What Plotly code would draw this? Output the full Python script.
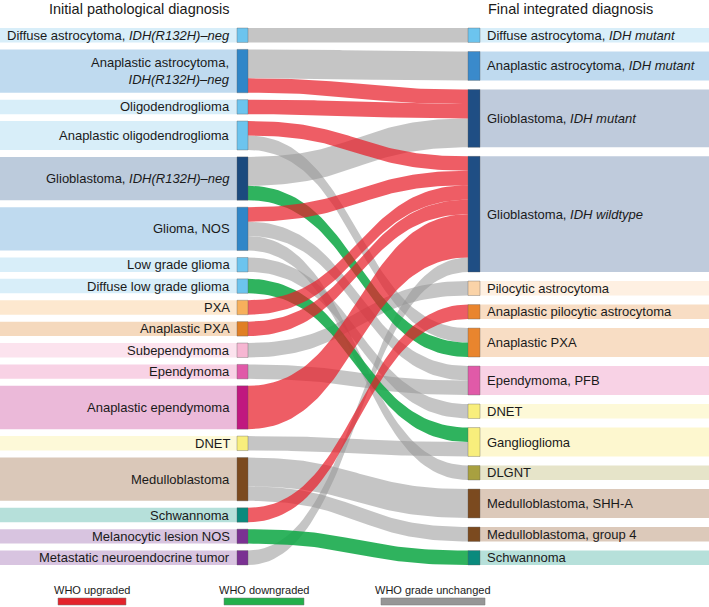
import numpy as np
import plotly.graph_objects as go

# ---------------- data ----------------
left_labels = [
    "Diffuse astrocytoma, <i>IDH(R132H)–neg</i>",
    "Anaplastic astrocytoma,<br><i>IDH(R132H)–neg</i>",
    "Oligodendroglioma",
    "Anaplastic oligodendroglioma",
    "Glioblastoma, <i>IDH(R132H)–neg</i>",
    "Glioma, NOS",
    "Low grade glioma",
    "Diffuse low grade glioma",
    "PXA",
    "Anaplastic PXA",
    "Subependymoma",
    "Ependymoma",
    "Anaplastic ependymoma",
    "DNET",
    "Medulloblastoma",
    "Schwannoma",
    "Melanocytic lesion NOS",
    "Metastatic neuroendocrine tumor",
]
left_node_colors = [
    "#6cc4ee", "#2f86c8", "#6cc4ee", "#6cc4ee", "#1b4a7e", "#2f86c8",
    "#6cc4ee", "#6cc4ee", "#f7b05c", "#e07f24", "#f6b6d2", "#e05aa8",
    "#c0187f", "#f8ee7c", "#7b4a1f", "#0a8a7d", "#7a3192", "#7a3192",
]
left_band_colors = [
    "#d8eef9", "#bfdaef", "#d8eef9", "#d8eef9", "#bccbdc", "#bfdaef",
    "#d8eef9", "#d8eef9", "#fde8cf", "#f5d9bd", "#fce3ee", "#f8d2e5",
    "#ebb9d9", "#fdf9d8", "#dac8b9", "#b6e0da", "#d8c4e0", "#d8c4e0",
]

right_labels = [
    "Diffuse astrocytoma, <i>IDH mutant</i>",
    "Anaplastic astrocytoma, <i>IDH mutant</i>",
    "Glioblastoma, <i>IDH mutant</i>",
    "Glioblastoma, <i>IDH wildtype</i>",
    "Pilocytic astrocytoma",
    "Anaplastic pilocytic astrocytoma",
    "Anaplastic PXA",
    "Ependymoma, PFB",
    "DNET",
    "Ganglioglioma",
    "DLGNT",
    "Medulloblastoma, SHH-A",
    "Medulloblastoma, group 4",
    "Schwannoma",
]
right_node_colors = [
    "#6cc4ee", "#3a8acb", "#1f4e84", "#1f4e84", "#fad3a8", "#e9852e",
    "#e9852e", "#e05aa8", "#f8ee7c", "#f8ee7c", "#a8a040", "#7b4a1f",
    "#7b4a1f", "#0a8a7d",
]
right_band_colors = [
    "#d8eef9", "#bfdaef", "#bfcbdc", "#bfcbdc", "#fef0e2", "#f8ddc4",
    "#f8ddc4", "#f8d2e5", "#fdf9d8", "#fdf7cf", "#e6e4c9", "#dcc9ba",
    "#dcc9ba", "#b6e0da",
]

# links (source index -> target index, number of cases, WHO grade change)
link_source = [0, 1, 1, 2, 3, 3, 4, 4, 5, 5, 5, 6, 7, 8, 9, 10, 11, 12, 13, 14, 14, 15, 16, 17]
link_target = [0, 1, 2, 2, 3, 6, 2, 6, 3, 7, 10, 8, 9, 3, 3, 4, 7, 3, 9, 11, 12, 5, 13, 3]
link_value  = [1, 2, 1, 1, 1, 1, 2, 1, 1, 1, 1, 1, 1, 1, 1, 1, 1, 3, 1, 2, 1, 1, 1, 1]
link_kind   = ["same", "same", "up", "up", "up", "same", "same", "down", "up", "same", "same",
               "same", "down", "up", "up", "same", "same", "up", "same", "same", "same",
               "up", "down", "same"]

legend_labels = {"up": "WHO upgraded", "down": "WHO downgraded", "same": "WHO grade unchanged"}

# ---------------- styling / layout ----------------
W, H = 709, 607
TOP, BOTTOM = 28, 565
UNIT = 14.45
XL0, XL1 = 237, 248      # left node bar
XR0, XR1 = 468, 480      # right node bar
link_fill = {"up": "rgba(232,30,42,0.72)", "down": "rgba(18,168,72,0.88)",
             "same": "rgba(150,150,150,0.55)"}
legend_color = {"up": "#e3232b", "down": "#22b04b", "same": "#969696"}
FONT = "Liberation Sans, Arial, Helvetica, sans-serif"

left_tot = [0] * len(left_labels)
right_tot = [0] * len(right_labels)
for s, t, v in zip(link_source, link_target, link_value):
    left_tot[s] += v
    right_tot[t] += v


def column_positions(totals):
    n = len(totals)
    gap = (BOTTOM - TOP - UNIT * sum(totals)) / (n - 1)
    ys, y = [], TOP
    for c in totals:
        ys.append((y, y + c * UNIT))
        y += c * UNIT + gap
    return ys


lpos = column_positions(left_tot)
rpos = column_positions(right_tot)

# stacking of links within nodes
n_links = len(link_source)
src_off = [0] * n_links
tgt_off = [0] * n_links
cur = [p[0] for p in lpos]
for i in range(n_links):
    s = link_source[i]
    src_off[i] = cur[s]
    cur[s] += link_value[i] * UNIT
cur = [p[0] for p in rpos]
for i in sorted(range(n_links), key=lambda k: (link_target[k], link_source[k])):
    t = link_target[i]
    tgt_off[i] = cur[t]
    cur[t] += link_value[i] * UNIT

fig = go.Figure()

t = np.linspace(0, 1, 60)
xm = (XL1 + XR0) / 2
bx = (1 - t) ** 3 * XL1 + 3 * (1 - t) ** 2 * t * xm + 3 * (1 - t) * t ** 2 * xm + t ** 3 * XR0


def bez_y(y0, y1):
    return (1 - t) ** 3 * y0 + 3 * (1 - t) ** 2 * t * y0 + 3 * (1 - t) * t ** 2 * y1 + t ** 3 * y1


order = [i for i in range(n_links) if link_kind[i] == "same"] + \
        [i for i in range(n_links) if link_kind[i] != "same"]
for i in order:
    h = link_value[i] * UNIT
    y0, y1 = src_off[i], tgt_off[i]
    top = bez_y(y0, y1)
    bot = bez_y(y0 + h, y1 + h)
    xs = np.concatenate([bx, bx[::-1]])
    ys = np.concatenate([top, bot[::-1]])
    fig.add_trace(go.Scatter(x=xs, y=ys, mode="lines", fill="toself",
                             fillcolor=link_fill[link_kind[i]], line=dict(width=0),
                             hoverinfo="skip", showlegend=False))

# nodes, bands and labels
for i, (a, b) in enumerate(lpos):
    fig.add_shape(type="rect", x0=0, x1=XL0, y0=a, y1=b, fillcolor=left_band_colors[i],
                  line=dict(width=0), layer="below")
    fig.add_shape(type="rect", x0=XL0, x1=XL1, y0=a, y1=b, fillcolor=left_node_colors[i],
                  line=dict(width=0.6, color="rgba(90,90,90,0.6)"), layer="above")
    fig.add_annotation(x=XL0 - 5, y=(a + b) / 2, text=left_labels[i], showarrow=False,
                       xanchor="right", yanchor="middle", align="right",
                       font=dict(family=FONT, size=13, color="#1a1a1a"))
for i, (a, b) in enumerate(rpos):
    fig.add_shape(type="rect", x0=XR1, x1=W, y0=a, y1=b, fillcolor=right_band_colors[i],
                  line=dict(width=0), layer="below")
    fig.add_shape(type="rect", x0=XR0, x1=XR1, y0=a, y1=b, fillcolor=right_node_colors[i],
                  line=dict(width=0.6, color="rgba(90,90,90,0.6)"), layer="above")
    fig.add_annotation(x=XR1 + 5, y=(a + b) / 2, text=right_labels[i], showarrow=False,
                       xanchor="left", yanchor="middle", align="left",
                       font=dict(family=FONT, size=13, color="#1a1a1a"))

# column titles
fig.add_annotation(x=139, y=9, text="Initial pathological diagnosis", showarrow=False,
                   xanchor="center", yanchor="middle", font=dict(family=FONT, size=14.5, color="#1a1a1a"))
fig.add_annotation(x=570, y=9, text="Final integrated diagnosis", showarrow=False,
                   xanchor="center", yanchor="middle", font=dict(family=FONT, size=14.5, color="#1a1a1a"))

# legend
for key, cx, half in [("up", 92, 34), ("down", 264, 40), ("same", 433, 52)]:
    fig.add_annotation(x=cx, y=590, text=legend_labels[key], showarrow=False,
                       xanchor="center", yanchor="middle",
                       font=dict(family="Liberation Sans Narrow, Arial Narrow, " + FONT, size=11,
                                 color="#1a1a1a"))
    fig.add_shape(type="rect", x0=cx - half, x1=cx + half, y0=598, y1=605,
                  fillcolor=legend_color[key], line=dict(width=0.5, color="#777777"))

fig.update_layout(
    width=W, height=H, margin=dict(l=0, r=0, t=0, b=0),
    paper_bgcolor="white", plot_bgcolor="white",
    xaxis=dict(range=[0, W], visible=False, fixedrange=True),
    yaxis=dict(range=[H, 0], visible=False, fixedrange=True),
    showlegend=False,
)
fig.write_html("out.html", config={"displayModeBar": False},
               post_script="document.body.style.margin='0';document.body.style.overflow='hidden';")
